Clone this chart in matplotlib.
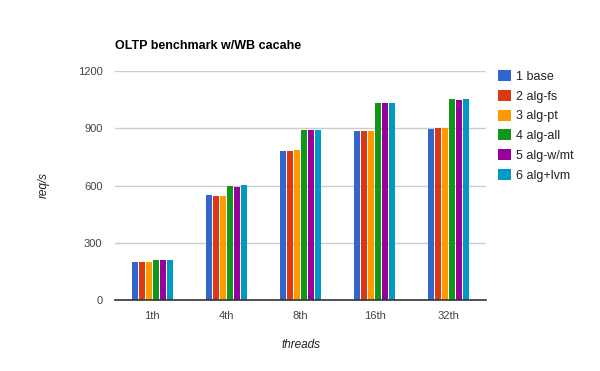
import numpy as np
import matplotlib
matplotlib.use("Agg")
import matplotlib.pyplot as plt
from matplotlib.patches import Patch

# === data ===
threads = ["1th", "4th", "8th", "16th", "32th"]
series = ["1 base", "2 alg-fs", "3 alg-pt", "4 alg-all", "5 alg-w/mt", "6 alg+lvm"]
base = [200, 550, 780, 886, 896]
alg_fs = [200, 545, 780, 886, 900]
alg_pt = [200, 545, 785, 886, 900]
alg_all = [210, 597, 889, 1032, 1053]
alg_wmt = [212, 592, 889, 1032, 1048]
alg_lvm = [212, 602, 889, 1032, 1053]
values = [base, alg_fs, alg_pt, alg_all, alg_wmt, alg_lvm]
colors = ["#3366cc", "#dc3912", "#ff9900", "#109618", "#990099", "#0099c6"]

plt.rcParams["font.family"] = ["Liberation Sans", "DejaVu Sans"]

fig = plt.figure(figsize=(6, 3.71), dpi=100)
ax = fig.add_axes([115 / 600, 71 / 371, 371 / 600, 229 / 371])

x = np.arange(len(threads))
step = 7 / 74.2
width = 6 / 74.2
for i, (vals, col) in enumerate(zip(values, colors)):
    ax.bar(x + (i - 2.5) * step, vals, width=width, color=col, zorder=2)

ax.set_xlim(-0.5, len(threads) - 0.5)
ax.set_ylim(0, 1200)
ax.set_yticks([0, 300, 600, 900, 1200])
ax.set_xticks(x)
ax.set_xticklabels(threads)
ax.grid(axis="y", color="#cccccc", linewidth=1, zorder=0)
for s in ["top", "right", "left"]:
    ax.spines[s].set_visible(False)
ax.spines["bottom"].set_color("#333333")
ax.spines["bottom"].set_linewidth(1.2)
ax.spines["bottom"].set_zorder(3)
ax.tick_params(length=0, labelsize=8, labelcolor="#444444")
ax.tick_params(axis="y", pad=9)
ax.tick_params(axis="x", pad=8)

ax.set_xlabel("threads", fontsize=8.5, style="italic", color="#222222", labelpad=13)
ax.set_ylabel("req/s", fontsize=8.5, style="italic", color="#222222", labelpad=20)

fig.text(115 / 600, 1 - 46 / 371, "OLTP benchmark w/WB cacahe", fontsize=9,
         fontweight="bold", color="#000000", va="center", ha="left")

handles = [Patch(facecolor=c, edgecolor="none") for c in colors]
fig.legend(handles, series, loc="upper left", bbox_to_anchor=(493 / 600, 1 - 65 / 371),
           frameon=False, fontsize=9, handlelength=1.0, handleheight=1.0,
           handletextpad=0.4, labelspacing=0.55, borderaxespad=0, labelcolor="#222222")

fig.savefig("out.png", dpi=100)
